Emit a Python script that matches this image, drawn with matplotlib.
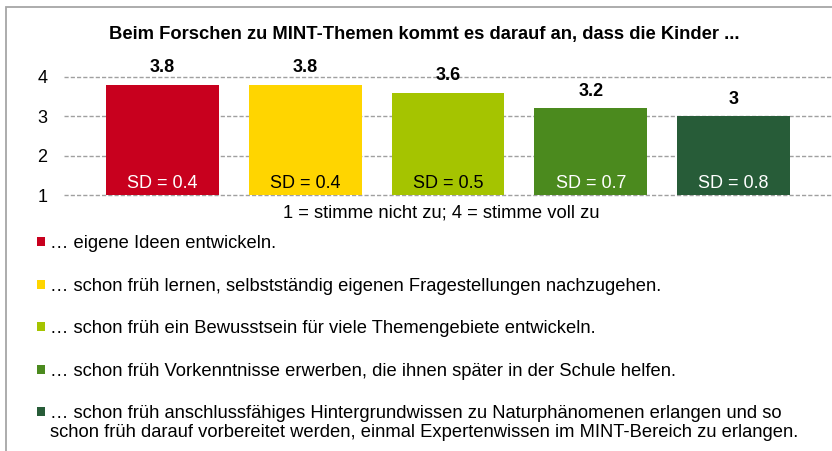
import matplotlib
matplotlib.use("Agg")
import matplotlib.pyplot as plt
from matplotlib.patches import Rectangle

plt.rcParams['font.family'] = ['Liberation Sans', 'DejaVu Sans']

title = "Beim Forschen zu MINT-Themen kommt es darauf an, dass die Kinder ..."
means = [3.8, 3.8, 3.6, 3.2, 3.0]
mean_labels = ["3.8", "3.8", "3.6", "3.2", "3"]
sds = [0.4, 0.4, 0.5, 0.7, 0.8]
colors = ["#C8001E", "#FFD500", "#A5C400", "#4B8A1E", "#275C38"]
sd_text_colors = ["white", "black", "black", "white", "white"]
yticks = [1, 2, 3, 4]
xlabel = "1 = stimme nicht zu; 4 = stimme voll zu"
legend_labels = [
    "\u2026 eigene Ideen entwickeln.",
    "\u2026 schon früh lernen, selbstständig eigenen Fragestellungen nachzugehen.",
    "\u2026 schon früh ein Bewusstsein für viele Themengebiete entwickeln.",
    "\u2026 schon früh Vorkenntnisse erwerben, die ihnen später in der Schule helfen.",
    "\u2026 schon früh anschlussfähiges Hintergrundwissen zu Naturphänomenen erlangen und so\n"
    "schon früh darauf vorbereitet werden, einmal Expertenwissen im MINT-Bereich zu erlangen.",
]

W, H = 832, 451
fig = plt.figure(figsize=(W / 100, H / 100), dpi=100)

# outer border
fig.patches.append(Rectangle((6 / W, -0.1), 1.2, 1 - 7 / H + 0.1, transform=fig.transFigure,
                             fill=False, edgecolor="#A6A6A6", linewidth=1.3))

ax = fig.add_axes([64 / W, 1 - 195 / H, (W - 64) / W, (195 - 77) / H])
x = list(range(len(means)))
ax.bar(x, [m - 1 for m in means], bottom=1, width=0.79, color=colors, zorder=3)
ax.set_xlim(-0.69, 4.69)
ax.set_ylim(1, 4)
ax.set_yticks(yticks)
ax.set_yticklabels([str(t) for t in yticks], fontsize=13)
ax.tick_params(axis='y', length=0, pad=12)
ax.set_xticks([])
for s in ax.spines.values():
    s.set_visible(False)
ax.yaxis.grid(True, linestyle=(0, (3, 1.5)), color="#A0A0A0", linewidth=1, zorder=0)
ax.set_axisbelow(True)
for gl in ax.get_ygridlines():
    gl.set_clip_on(False)

for xi, m, lab in zip(x, means, mean_labels):
    ax.annotate(lab, (xi, m), xytext=(0, 17), textcoords="offset pixels",
                ha="center", va="center", fontsize=13, fontweight="bold", clip_on=False)
for xi, sd, tc in zip(x, sds, sd_text_colors):
    ax.annotate(f"SD = {sd}", (xi, 1), xytext=(0, 12), textcoords="offset pixels",
                ha="center", va="center", fontsize=13, color=tc, zorder=4)

fig.text(424 / W, 1 - 34 / H, title, ha="center", va="center", fontsize=13.2, fontweight="bold")
fig.text(441 / W, 1 - 213 / H, xlabel, ha="center", va="center", fontsize=13.2)

ys = [242, 285, 327, 370, 412]
for lab, c, yy in zip(legend_labels, colors, ys):
    fig.patches.append(Rectangle((37 / W, 1 - (yy + 4) / H), 8 / W, 9 / H,
                                 transform=fig.transFigure, facecolor=c, edgecolor="none"))
    fig.text(50 / W, 1 - (yy - 7) / H, lab, ha="left", va="top", fontsize=13.2,
             linespacing=1.12)

fig.savefig("out.png", dpi=100)
